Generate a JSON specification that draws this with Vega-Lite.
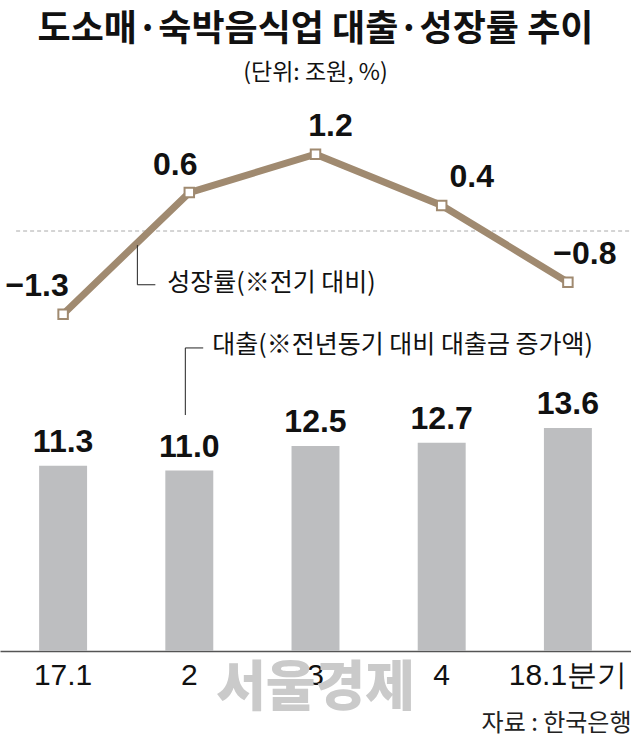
{
  "$schema": "https://vega.github.io/schema/vega-lite/v6.json",
  "width": 631,
  "height": 551,
  "autosize": {"type": "none"},
  "padding": {"top": 100, "bottom": 85, "left": 0, "right": 0},
  "background": "white",
  "config": {
    "view": {"stroke": null},
    "font": "Noto Sans CJK KR",
    "axisX": {"titleAnchor": "end", "titleFont": "Noto Sans CJK KR", "titleFontSize": 24, "titleFontWeight": "normal", "titleColor": "#222222", "titlePadding": 21,
              "labelAngle": 0, "labelFont": "Liberation Sans", "labelFontSize": 30, "labelColor": "#111111", "labelPadding": 9,
              "ticks": false, "grid": false, "domainColor": "#555555", "domainWidth": 1.5, "zindex": 1}
  },
  "title": {
    "text": "도소매·숙박음식업 대출·성장률 추이",
    "subtitle": "(단위: 조원, %)",
    "anchor": "middle",
    "frame": "group",
    "font": "Noto Sans CJK KR",
    "fontSize": 36,
    "fontWeight": "bold",
    "color": "#111111",
    "subtitleFont": "Noto Sans CJK KR",
    "subtitleFontSize": 23,
    "subtitleColor": "#111111",
    "subtitlePadding": 13,
    "offset": 14
  },
  "datasets": {
    "qs": [
      {"q": "17.1", "loan": 11.3, "growth": -1.3},
      {"q": "2", "loan": 11.0, "growth": 0.6},
      {"q": "3", "loan": 12.5, "growth": 1.2},
      {"q": "4", "loan": 12.7, "growth": 0.4},
      {"q": "18.1분기", "loan": 13.6, "growth": -0.8}
    ],
    "notes": [
      {"key": "growth", "text": "성장률(※전기 대비)"},
      {"key": "loan", "text": "대출(※전년동기 대비 대출금 증가액)"},
      {"key": "wm", "text": "서울경제"}
    ]
  },
  "data": {"name": "qs"},
  "layer": [
    {
      "layer": [
        {
          "mark": {"type": "bar", "color": "#bdbec0"},
          "encoding": {
            "x": {"field": "q", "type": "nominal", "sort": null,
                  "scale": {"domain": ["17.1", "2", "3", "4", "18.1분기"], "paddingInner": 0.62, "paddingOuter": 0.31},
                  "axis": {"title": "자료 : 한국은행"}},
            "y": {"field": "loan", "type": "quantitative", "scale": {"domain": [0, 33.6]}, "axis": null}
          }
        },
        {
          "mark": {"type": "text", "font": "Liberation Sans", "fontSize": 32, "fontWeight": "bold", "baseline": "alphabetic", "dy": -14, "color": "#111111"},
          "encoding": {
            "x": {"field": "q", "type": "nominal", "sort": null, "scale": {"domain": ["17.1", "2", "3", "4", "18.1분기"], "paddingInner": 0.62, "paddingOuter": 0.31}},
            "y": {"field": "loan", "type": "quantitative", "scale": {"domain": [0, 33.6]}, "axis": null},
            "text": {"field": "loan", "type": "quantitative", "format": ".1f"}
          }
        },
        {
          "data": {"name": "notes"},
          "transform": [{"filter": "datum.key === 'loan'"}],
          "mark": {"type": "text", "font": "Noto Sans CJK KR", "fontSize": 25, "align": "left", "baseline": "middle", "color": "#111111"},
          "encoding": {
            "x": {"datum": "2", "type": "nominal", "bandPosition": 0.98, "scale": {"domain": ["17.1", "2", "3", "4", "18.1분기"], "paddingInner": 0.62, "paddingOuter": 0.31}},
            "y": {"datum": 18.66, "type": "quantitative", "scale": {"domain": [0, 33.6]}, "axis": null},
            "text": {"field": "text", "type": "nominal"}
          }
        },
        {
          "data": {"name": "notes"},
          "transform": [{"filter": "datum.key === 'loan'"}],
          "mark": {"type": "rule", "color": "#222222", "strokeWidth": 1},
          "encoding": {
            "x": {"datum": "2", "type": "nominal", "bandPosition": 0.417, "scale": {"domain": ["17.1", "2", "3", "4", "18.1분기"], "paddingInner": 0.62, "paddingOuter": 0.31}},
            "x2": {"datum": "2", "bandPosition": 0.79},
            "y": {"datum": 18.48, "type": "quantitative", "scale": {"domain": [0, 33.6]}, "axis": null}
          }
        },
        {
          "data": {"name": "notes"},
          "transform": [{"filter": "datum.key === 'loan'"}],
          "mark": {"type": "rule", "color": "#222222", "strokeWidth": 1},
          "encoding": {
            "x": {"datum": "2", "type": "nominal", "bandPosition": 0.417, "scale": {"domain": ["17.1", "2", "3", "4", "18.1분기"], "paddingInner": 0.62, "paddingOuter": 0.31}},
            "y": {"datum": 18.48, "type": "quantitative", "scale": {"domain": [0, 33.6]}, "axis": null},
            "y2": {"datum": 14.39}
          }
        },
        {
          "data": {"name": "notes"},
          "transform": [{"filter": "datum.key === 'wm'"}],
          "mark": {"type": "text", "font": "Noto Sans CJK KR", "fontSize": 54, "fontWeight": 900, "align": "center", "baseline": "middle", "color": "#cacaca"},
          "encoding": {
            "x": {"datum": "3", "type": "nominal", "scale": {"domain": ["17.1", "2", "3", "4", "18.1분기"], "paddingInner": 0.62, "paddingOuter": 0.31}},
            "y": {"datum": -2.4, "type": "quantitative", "scale": {"domain": [0, 33.6]}, "axis": null},
            "text": {"field": "text", "type": "nominal"}
          }
        }
      ]
    },
    {
      "layer": [
        {
          "data": {"name": "notes"},
          "transform": [{"filter": "datum.key === 'growth'"}],
          "mark": {"type": "rule", "color": "#aaaaaa", "strokeWidth": 1, "strokeDash": [4, 3]},
          "encoding": {
            "x": {"datum": "17.1", "type": "nominal", "bandPosition": -0.48, "scale": {"domain": ["17.1", "2", "3", "4", "18.1분기"], "paddingInner": 0.62, "paddingOuter": 0.31}},
            "x2": {"datum": "18.1분기", "bandPosition": 1.81},
            "y": {"datum": 0, "type": "quantitative", "scale": {"domain": [-6.5625, 2.047]}, "axis": null}
          }
        },
        {
          "mark": {"type": "line", "color": "#a08a70", "strokeWidth": 7},
          "encoding": {
            "x": {"field": "q", "type": "nominal", "sort": null, "scale": {"domain": ["17.1", "2", "3", "4", "18.1분기"], "paddingInner": 0.62, "paddingOuter": 0.31}},
            "y": {"field": "growth", "type": "quantitative", "scale": {"domain": [-6.5625, 2.047]}, "axis": null}
          }
        },
        {
          "mark": {"type": "point", "shape": "square", "filled": true, "fill": "white", "stroke": "#a08a70", "strokeWidth": 2, "size": 90, "opacity": 1},
          "encoding": {
            "x": {"field": "q", "type": "nominal", "sort": null, "scale": {"domain": ["17.1", "2", "3", "4", "18.1분기"], "paddingInner": 0.62, "paddingOuter": 0.31}},
            "y": {"field": "growth", "type": "quantitative", "scale": {"domain": [-6.5625, 2.047]}, "axis": null}
          }
        },
        {
          "transform": [{"filter": "datum.q === '17.1'"}],
          "mark": {"type": "text", "font": "Liberation Sans", "fontSize": 32, "fontWeight": "bold", "baseline": "alphabetic", "dy": -18, "dx": -26, "color": "#111111"},
          "encoding": {
            "x": {"field": "q", "type": "nominal", "sort": null, "scale": {"domain": ["17.1", "2", "3", "4", "18.1분기"], "paddingInner": 0.62, "paddingOuter": 0.31}},
            "y": {"field": "growth", "type": "quantitative", "scale": {"domain": [-6.5625, 2.047]}, "axis": null},
            "text": {"field": "growth", "type": "quantitative", "format": ".1f"}
          }
        },
        {
          "transform": [{"filter": "datum.q === '2'"}],
          "mark": {"type": "text", "font": "Liberation Sans", "fontSize": 32, "fontWeight": "bold", "baseline": "alphabetic", "dy": -18, "dx": -14, "color": "#111111"},
          "encoding": {
            "x": {"field": "q", "type": "nominal", "sort": null, "scale": {"domain": ["17.1", "2", "3", "4", "18.1분기"], "paddingInner": 0.62, "paddingOuter": 0.31}},
            "y": {"field": "growth", "type": "quantitative", "scale": {"domain": [-6.5625, 2.047]}, "axis": null},
            "text": {"field": "growth", "type": "quantitative", "format": ".1f"}
          }
        },
        {
          "transform": [{"filter": "datum.q === '3'"}],
          "mark": {"type": "text", "font": "Liberation Sans", "fontSize": 32, "fontWeight": "bold", "baseline": "alphabetic", "dy": -18, "dx": 15, "color": "#111111"},
          "encoding": {
            "x": {"field": "q", "type": "nominal", "sort": null, "scale": {"domain": ["17.1", "2", "3", "4", "18.1분기"], "paddingInner": 0.62, "paddingOuter": 0.31}},
            "y": {"field": "growth", "type": "quantitative", "scale": {"domain": [-6.5625, 2.047]}, "axis": null},
            "text": {"field": "growth", "type": "quantitative", "format": ".1f"}
          }
        },
        {
          "transform": [{"filter": "datum.q === '4'"}],
          "mark": {"type": "text", "font": "Liberation Sans", "fontSize": 32, "fontWeight": "bold", "baseline": "alphabetic", "dy": -18, "dx": 30, "color": "#111111"},
          "encoding": {
            "x": {"field": "q", "type": "nominal", "sort": null, "scale": {"domain": ["17.1", "2", "3", "4", "18.1분기"], "paddingInner": 0.62, "paddingOuter": 0.31}},
            "y": {"field": "growth", "type": "quantitative", "scale": {"domain": [-6.5625, 2.047]}, "axis": null},
            "text": {"field": "growth", "type": "quantitative", "format": ".1f"}
          }
        },
        {
          "transform": [{"filter": "datum.q === '18.1분기'"}],
          "mark": {"type": "text", "font": "Liberation Sans", "fontSize": 32, "fontWeight": "bold", "baseline": "alphabetic", "dy": -18, "dx": 17, "color": "#111111"},
          "encoding": {
            "x": {"field": "q", "type": "nominal", "sort": null, "scale": {"domain": ["17.1", "2", "3", "4", "18.1분기"], "paddingInner": 0.62, "paddingOuter": 0.31}},
            "y": {"field": "growth", "type": "quantitative", "scale": {"domain": [-6.5625, 2.047]}, "axis": null},
            "text": {"field": "growth", "type": "quantitative", "format": ".1f"}
          }
        },
        {
          "data": {"name": "notes"},
          "transform": [{"filter": "datum.key === 'growth'"}],
          "mark": {"type": "text", "font": "Noto Sans CJK KR", "fontSize": 25, "align": "left", "baseline": "middle", "color": "#111111"},
          "encoding": {
            "x": {"datum": "2", "type": "nominal", "bandPosition": 0.04, "scale": {"domain": ["17.1", "2", "3", "4", "18.1분기"], "paddingInner": 0.62, "paddingOuter": 0.31}},
            "y": {"datum": -0.81, "type": "quantitative", "scale": {"domain": [-6.5625, 2.047]}, "axis": null},
            "text": {"field": "text", "type": "nominal"}
          }
        },
        {
          "data": {"name": "notes"},
          "transform": [{"filter": "datum.key === 'growth'"}],
          "mark": {"type": "rule", "color": "#222222", "strokeWidth": 1},
          "encoding": {
            "x": {"datum": "2", "type": "nominal", "bandPosition": -0.583, "scale": {"domain": ["17.1", "2", "3", "4", "18.1분기"], "paddingInner": 0.62, "paddingOuter": 0.31}},
            "y": {"datum": -0.22, "type": "quantitative", "scale": {"domain": [-6.5625, 2.047]}, "axis": null},
            "y2": {"datum": -0.84}
          }
        },
        {
          "data": {"name": "notes"},
          "transform": [{"filter": "datum.key === 'growth'"}],
          "mark": {"type": "rule", "color": "#222222", "strokeWidth": 1},
          "encoding": {
            "x": {"datum": "2", "type": "nominal", "bandPosition": -0.583, "scale": {"domain": ["17.1", "2", "3", "4", "18.1분기"], "paddingInner": 0.62, "paddingOuter": 0.31}},
            "x2": {"datum": "2", "bandPosition": -0.208},
            "y": {"datum": -0.84, "type": "quantitative", "scale": {"domain": [-6.5625, 2.047]}, "axis": null}
          }
        }
      ]
    }
  ],
  "resolve": {"scale": {"y": "independent"}}
}
